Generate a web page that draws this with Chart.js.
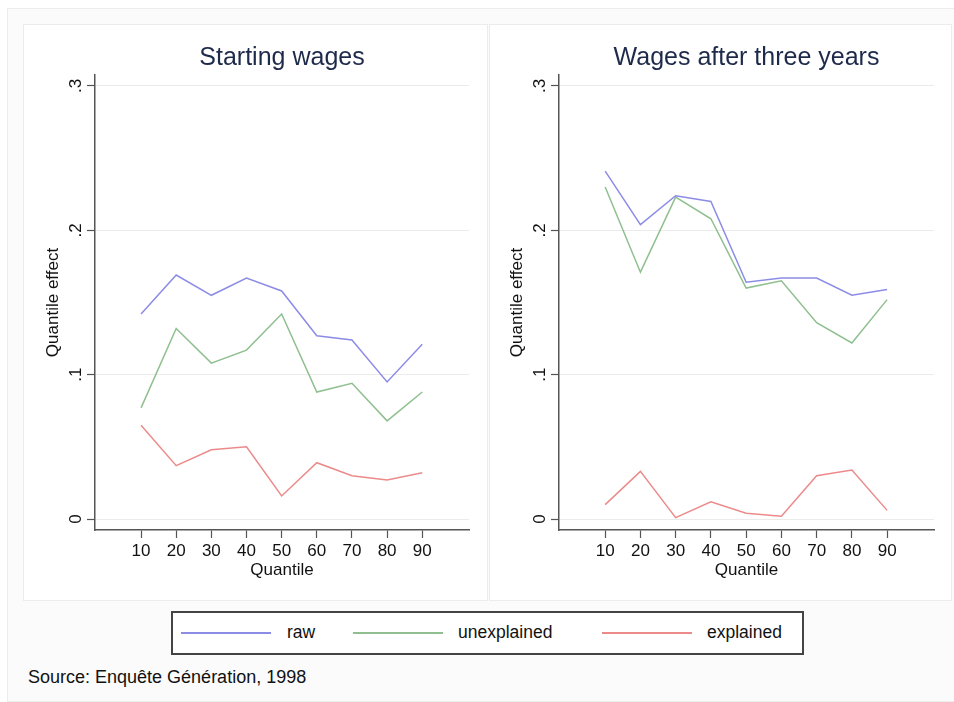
<!DOCTYPE html>
<html>
<head>
<meta charset="utf-8">
<script src="https://cdn.jsdelivr.net/npm/chart.js@4/dist/chart.umd.min.js"></script>
<style>
  body { margin: 0; background: #fff; font-family: "Liberation Sans", Arial, sans-serif; }
  #frame { position: absolute; left: 7px; top: 8px; width: 960px; height: 692px; border: 1px solid #ececec; background: #fbfbfb; }
  .panel { position: absolute; top: 24px; height: 577px; background: #fff; border: 1px solid #ececec; box-sizing: border-box; }
  canvas { position: absolute; }
  #legend { position: absolute; left: 171px; top: 611px; width: 633px; height: 44px; border: 2px solid #444; box-sizing: border-box; background: #fff; }
  .key { position: absolute; top: 19px; width: 90px; height: 2px; }
  .lab { position: absolute; top: 9px; font-size: 17.5px; color: #111; }
  #source { position: absolute; left: 28px; top: 667px; font-size: 18px; color: #111; }
</style>
</head>
<body>
<div id="frame"></div>
<div class="panel" style="left:23px;width:465px"></div>
<div class="panel" style="left:489px;width:463px"></div>
<canvas id="left" width="464" height="577" style="left:23px;top:24px"></canvas>
<canvas id="right" width="462" height="577" style="left:490px;top:24px"></canvas>
<div id="legend">
  <div class="key" style="left:8px;background:#8c8ce6"></div><div class="lab" style="left:114px">raw</div>
  <div class="key" style="left:180px;background:#8fbf8f"></div><div class="lab" style="left:285px">unexplained</div>
  <div class="key" style="left:429px;background:#ec8a8a"></div><div class="lab" style="left:534px">explained</div>
</div>
<div id="source">Source: Enquête Génération, 1998</div>
<script>
var quantiles = [10, 20, 30, 40, 50, 60, 70, 80, 90];
var yTickValues = [0, 0.1, 0.2, 0.3];
var yTickLabels = ["0", ".1", ".2", ".3"];

var startRaw = [0.142, 0.169, 0.155, 0.167, 0.158, 0.127, 0.124, 0.095, 0.121];
var startUnexplained = [0.077, 0.132, 0.108, 0.117, 0.142, 0.088, 0.094, 0.068, 0.088];
var startExplained = [0.065, 0.037, 0.048, 0.050, 0.016, 0.039, 0.030, 0.027, 0.032];

var afterRaw = [0.241, 0.204, 0.224, 0.220, 0.164, 0.167, 0.167, 0.155, 0.159];
var afterUnexplained = [0.230, 0.171, 0.223, 0.208, 0.160, 0.165, 0.136, 0.122, 0.152];
var afterExplained = [0.010, 0.033, 0.001, 0.012, 0.004, 0.002, 0.030, 0.034, 0.006];

var FONT = "'Liberation Sans', Arial, sans-serif";

function pts(vals) {
	return vals.map(function (v, i) { return { x: quantiles[i], y: v }; });
}

// rotated y tick labels, like Stata draws them
var rotatedTicks = {
	id: "rotatedTicks",
	afterDraw: function (chart, args, opts) {
		var ctx = chart.ctx;
		var y = chart.scales.y;
		ctx.save();
		ctx.font = "17px " + FONT;
		ctx.fillStyle = "#111";
		ctx.textAlign = "center";
		ctx.textBaseline = "middle";
		yTickValues.forEach(function (v, i) {
			ctx.save();
			ctx.translate(y.right - opts.gap, y.getPixelForValue(v));
			ctx.rotate(-Math.PI / 2);
			ctx.fillText(yTickLabels[i], 0, 0);
			ctx.restore();
		});
		ctx.restore();
	},
};

function makeChart(id, title, raw, unexpl, expl, yWidth, titleOffset) {
	var ctx = document.getElementById(id).getContext("2d");
	return new Chart(ctx, {
		type: "line",
		data: {
			datasets: [
				{ label: "raw", data: pts(raw), borderColor: "#8c8ce6" },
				{ label: "unexplained", data: pts(unexpl), borderColor: "#8fbf8f" },
				{ label: "explained", data: pts(expl), borderColor: "#ec8a8a" },
			],
		},
		options: {
			responsive: false,
			animation: false,
			devicePixelRatio: 1,
			layout: { padding: { left: 0, right: 18, top: 0, bottom: 0 } },
			elements: {
				point: { radius: 0 },
				line: { borderWidth: 1.5, tension: 0 },
			},
			scales: {
				x: {
					type: "linear",
					min: -3.1,
					max: 103.3,
					afterBuildTicks: function (s) {
						s.ticks = quantiles.map(function (q) { return { value: q }; });
					},
					afterFit: function (s) { s.height = 71; },
					grid: { drawOnChartArea: false, tickColor: "#555", tickLength: 8, tickWidth: 1.2 },
					border: { color: "#555", width: 1.5 },
					ticks: {
						color: "#111",
						font: { size: 17, family: FONT },
						padding: 3,
						maxRotation: 0,
						callback: function (v) { return String(v); },
					},
					title: {
						display: true,
						text: "Quantile",
						color: "#111",
						font: { size: 17, family: FONT },
						padding: { top: 0, bottom: 20 },
					},
				},
				y: {
					min: -0.0076,
					max: 0.3076,
					afterBuildTicks: function (s) {
						s.ticks = yTickValues.map(function (v) { return { value: v }; });
					},
					afterFit: function (s) { s.width = yWidth; },
					grid: { color: "#ebebeb", tickColor: "#555", tickLength: 8, tickWidth: 1.2 },
					border: { color: "#555", width: 1.5 },
					ticks: { display: false },
					title: {
						display: true,
						text: "Quantile effect",
						color: "#111",
						font: { size: 17, family: FONT },
						padding: { top: titleOffset, bottom: 0 },
					},
				},
			},
			plugins: {
				legend: { display: false },
				tooltip: { enabled: false },
				title: {
					display: true,
					text: title,
					fullSize: false,
					color: "#1e2a4a",
					font: { size: 25, weight: "normal", family: FONT },
					padding: { top: 19, bottom: 2 },
				},
				rotatedTicks: { gap: 19 },
			},
		},
		plugins: [rotatedTicks],
	});
}

makeChart("left", "Starting wages", startRaw, startUnexplained, startExplained, 72, 20);
makeChart("right", "Wages after three years", afterRaw, afterUnexplained, afterExplained, 69, 17);
</script>
</body>
</html>
